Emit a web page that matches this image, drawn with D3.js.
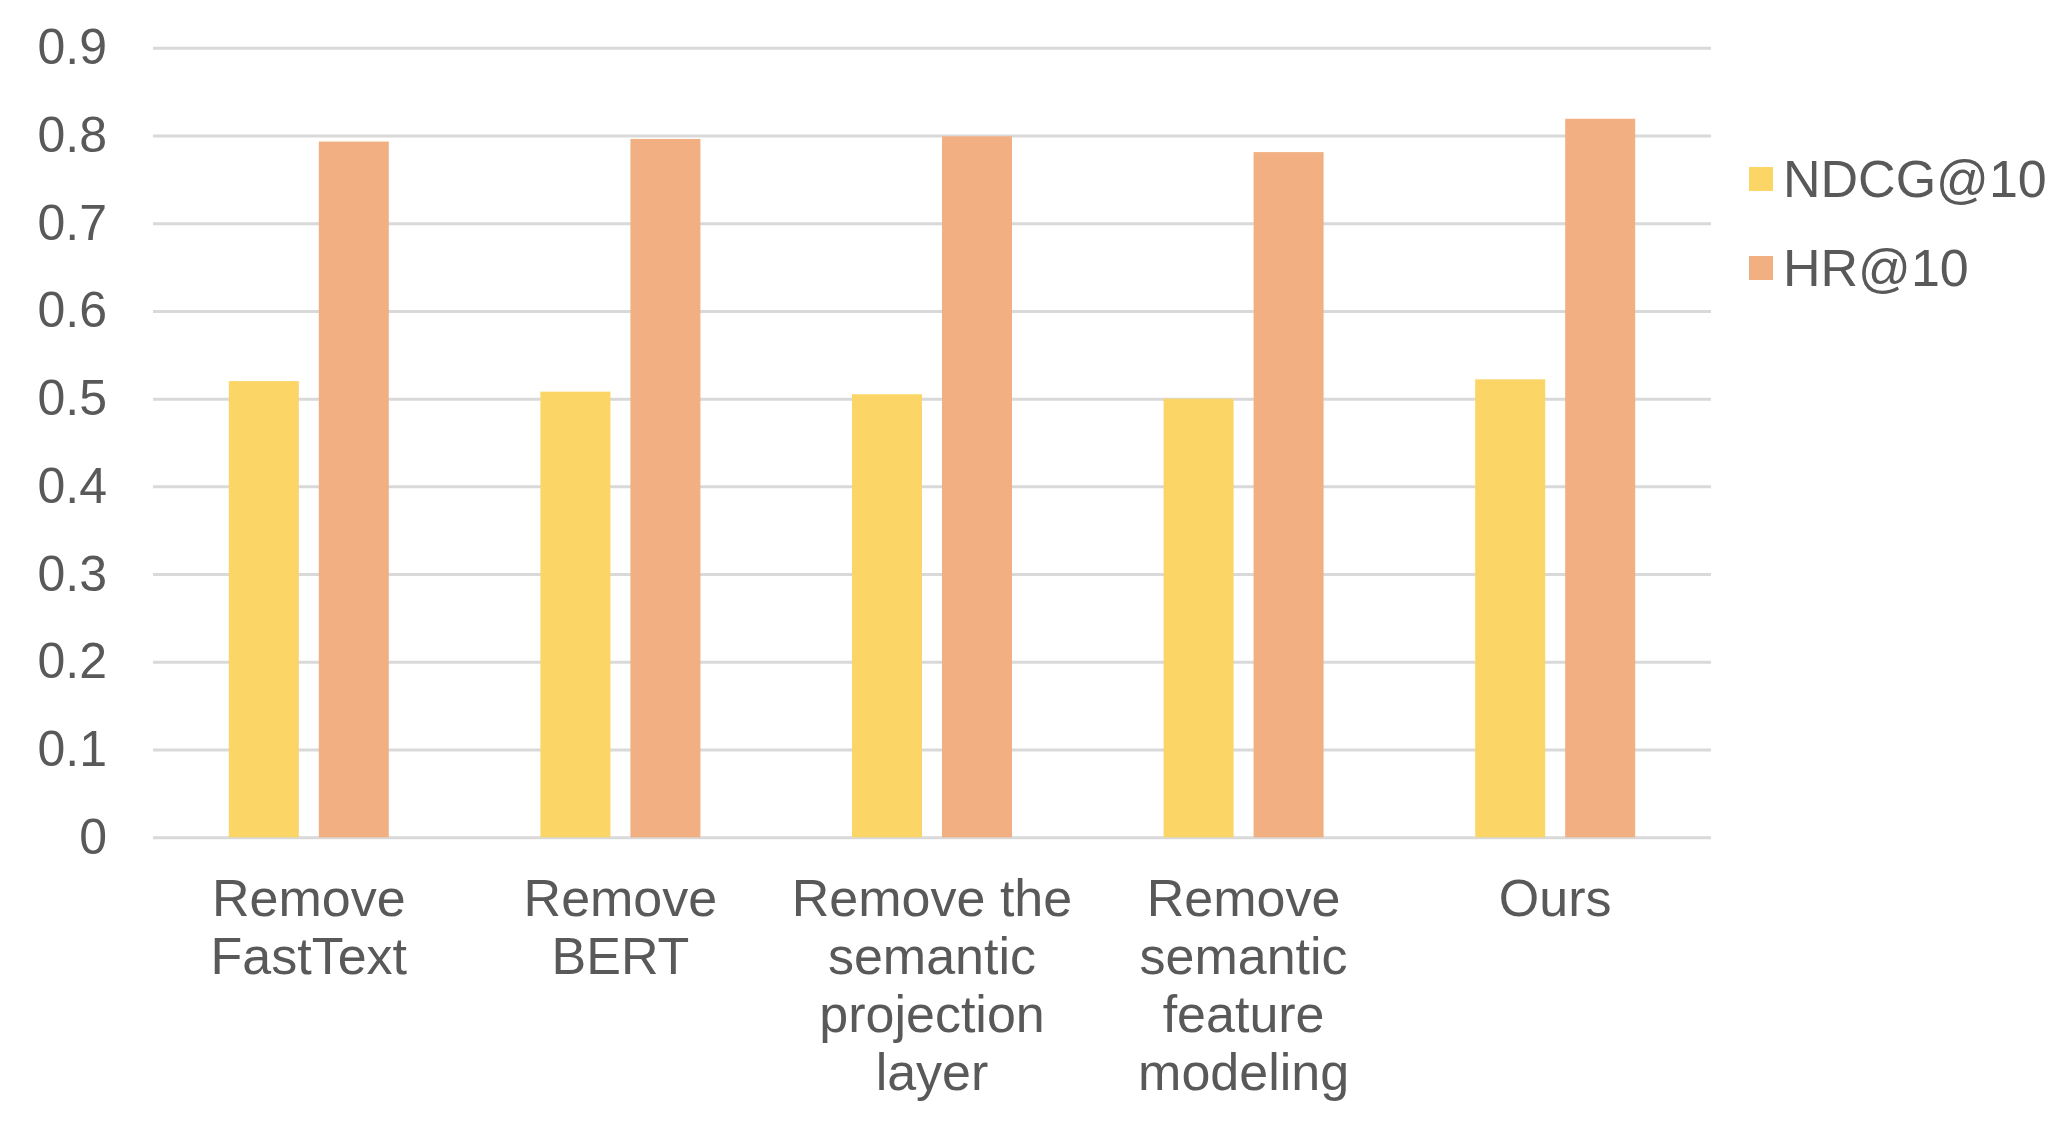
<!DOCTYPE html>
<html lang="en">
<head>
<meta charset="utf-8">
<title>Ablation NDCG@10 / HR@10</title>
<script src="https://d3js.org/d3.v7.min.js"></script>
<style>
  body { margin: 0; background: #fff; }
  text { font-family: "Liberation Sans Narrow", "Liberation Sans", sans-serif; fill: #595959; }
</style>
</head>
<body>
<div id="chart"></div>
<script>
// data
var categories = ["Remove FastText", "Remove BERT", "Remove the semantic projection layer",
                  "Remove semantic feature modeling", "Ours"];
var categoryLines = [
  ["Remove", "FastText"],
  ["Remove", "BERT"],
  ["Remove the", "semantic", "projection", "layer"],
  ["Remove", "semantic", "feature", "modeling"],
  ["Ours"]
];
var seriesNames = ["NDCG@10", "HR@10"];
var ndcgValues = [0.520, 0.508, 0.505, 0.500, 0.522];
var hrValues = [0.793, 0.796, 0.799, 0.781, 0.819];
var seriesColors = ["#fbd667", "#f2b082"];
var yTicks = [0, 0.1, 0.2, 0.3, 0.4, 0.5, 0.6, 0.7, 0.8, 0.9];
var yTickLabels = ["0", "0.1", "0.2", "0.3", "0.4", "0.5", "0.6", "0.7", "0.8", "0.9"];

var width = 2063, height = 1135;
var plotLeft = 153, plotRight = 1711;
var plotTop = 47.7, plotBottom = 837.3;
var fontSize = 52;

var svg = d3.select("#chart").append("svg")
  .attr("width", width)
  .attr("height", height);

svg.append("rect").attr("width", width).attr("height", height).attr("fill", "#fff");

var x0 = d3.scaleBand()
  .domain(categories)
  .range([plotLeft, plotRight])
  .paddingInner(0.4865)
  .paddingOuter(0.2433);

var x1 = d3.scaleBand()
  .domain(seriesNames)
  .range([0, x0.bandwidth()])
  .paddingInner(0.222);

var y = d3.scaleLinear().domain([0, 0.9]).range([plotBottom, plotTop]);

// gridlines
var grid = svg.append("g")
  .attr("transform", "translate(" + plotLeft + ",0)")
  .call(d3.axisLeft(y).tickValues(yTicks).tickSize(-(plotRight - plotLeft)).tickFormat(""));
grid.select(".domain").remove();
grid.selectAll("line").attr("stroke", "#d9d9d9").attr("stroke-width", 3);

// y tick labels
var yAxis = svg.append("g")
  .attr("transform", "translate(" + plotLeft + ",0)")
  .call(d3.axisLeft(y).tickValues(yTicks).tickSize(0).tickPadding(46)
    .tickFormat(function(d, i) { return yTickLabels[i]; }));
yAxis.select(".domain").remove();
yAxis.selectAll("text")
  .attr("fill", "#595959")
  .style("font-size", "50px")
  .style("font-family", "'Liberation Sans Narrow', 'Liberation Sans', sans-serif");

// bars
var rows = categories.map(function(c, i) {
  return { cat: c, vals: [ndcgValues[i], hrValues[i]] };
});

var groups = svg.selectAll(".grp")
  .data(rows)
  .enter()
  .append("g")
  .attr("class", "grp")
  .attr("transform", function(d) { return "translate(" + x0(d.cat) + ",0)"; });

groups.selectAll("rect")
  .data(function(d) { return d.vals.map(function(v, j) { return { s: seriesNames[j], v: v, j: j }; }); })
  .enter()
  .append("rect")
  .attr("x", function(d) { return x1(d.s); })
  .attr("y", function(d) { return y(d.v); })
  .attr("width", x1.bandwidth())
  .attr("height", function(d) { return y(0) - y(d.v); })
  .attr("fill", function(d) { return seriesColors[d.j]; });

// category labels
var labels = svg.selectAll(".catLabel")
  .data(categories)
  .enter()
  .append("text")
  .attr("class", "catLabel")
  .attr("text-anchor", "middle")
  .style("font-size", fontSize + "px");

labels.selectAll("tspan")
  .data(function(d, i) { return categoryLines[i].map(function(l) { return { line: l, cat: d }; }); })
  .enter()
  .append("tspan")
  .attr("x", function(d) { return x0(d.cat) + x0.bandwidth() / 2; })
  .attr("y", function(d, k) { return 916 + k * 58; })
  .text(function(d) { return d.line; });

// legend
var legend = svg.selectAll(".leg")
  .data(seriesNames)
  .enter()
  .append("g")
  .attr("class", "leg")
  .attr("transform", function(d, i) { return "translate(1749," + (179 + i * 89) + ")"; });

legend.append("rect")
  .attr("x", 0)
  .attr("y", -12)
  .attr("width", 24)
  .attr("height", 24)
  .attr("fill", function(d, i) { return seriesColors[i]; });

legend.append("text")
  .attr("x", 34)
  .attr("y", 18)
  .style("font-size", fontSize + "px")
  .text(function(d) { return d; });
</script>
</body>
</html>
